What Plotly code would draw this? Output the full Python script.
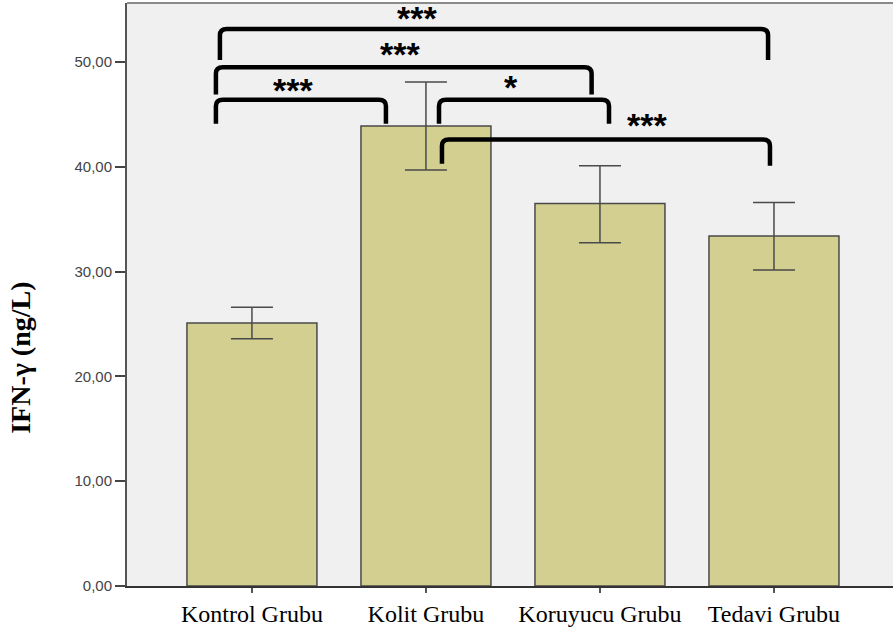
import plotly.graph_objects as go

# Group means and standard errors of IFN-gamma (ng/L)
groups = ["Kontrol Grubu", "Kolit Grubu", "Koruyucu Grubu", "Tedavi Grubu"]
means = [25.1, 43.9, 36.5, 33.4]
err_plus = [1.5, 4.2, 3.6, 3.2]
err_minus = [1.5, 4.2, 3.75, 3.25]

y_ticks = [0, 10, 20, 30, 40, 50]
y_tick_text = ["0,00", "10,00", "20,00", "30,00", "40,00", "50,00"]

# Significance brackets: (left x, right x, top y, left leg end, right leg end, label, label x, label y)
brackets = [
    (-0.207, 0.770, 46.4, 44.1, 44.1, "***", 0.236, 47.6),
    (-0.207, 1.952, 49.5, 46.9, 46.9, "***", 0.851, 51.05),
    (-0.184, 2.966, 53.15, 50.2, 50.2, "***", 0.948, 54.45),
    (1.075, 2.052, 46.4, 44.1, 44.1, "*", 1.489, 47.9),
    (1.092, 2.977, 42.6, 40.3, 40.1, "***", 2.270, 44.3),
]

x_pos = list(range(len(groups)))

fig = go.Figure()
fig.add_trace(go.Bar(
    x=x_pos,
    y=means,
    width=0.747,
    marker=dict(color="#d3cf91", line=dict(color="#4a4a4a", width=1.5)),
    error_y=dict(type="data", array=err_plus, arrayminus=err_minus,
                 color="#4a4a4a", thickness=1.5, width=21),
    showlegend=False,
))

# corner radius in data units
rx, ry = 0.04, 0.6
shapes = []
annotations = []
for xl, xr, yt, ybl, ybr, lab, lx, ly in brackets:
    path = (f"M {xl},{ybl} L {xl},{yt - ry} Q {xl},{yt} {xl + rx},{yt} "
            f"L {xr - rx},{yt} Q {xr},{yt} {xr},{yt - ry} L {xr},{ybr}")
    shapes.append(dict(type="path", path=path, xref="x", yref="y",
                       line=dict(color="black", width=4.5)))
    annotations.append(dict(x=lx, y=ly, xref="x", yref="y", text=f"<b>{lab}</b>",
                            showarrow=False, yanchor="middle", yshift=-3,
                            font=dict(family="Liberation Sans, Arial", size=34, color="black")))

# y-axis title
annotations.append(dict(x=-0.14, y=0.391, xref="paper", yref="paper",
                        text="<b>IFN-γ (ng/L)</b>", textangle=-90, showarrow=False,
                        xanchor="center", yanchor="middle",
                        font=dict(family="Liberation Serif, Times New Roman", size=28, color="black")))

# top frame line
shapes.append(dict(type="line", xref="paper", yref="paper", x0=0, x1=1, y0=1, y1=1,
                   line=dict(color="#8a8a8a", width=2)))

fig.update_layout(
    width=893, height=634,
    margin=dict(l=127, r=0, t=3, b=48),
    paper_bgcolor="white",
    plot_bgcolor="#f0f0f0",
    shapes=shapes,
    annotations=annotations,
    xaxis=dict(
        range=[-0.718, 3.684],
        tickvals=x_pos, ticktext=groups,
        ticks="outside", ticklen=5, tickwidth=1.5, tickcolor="#555",
        showline=True, linecolor="#333", linewidth=2,
        showgrid=False, zeroline=False,
        tickfont=dict(family="Liberation Serif, Times New Roman", size=24, color="black"),
    ),
    yaxis=dict(
        range=[0, 55.63],
        tickvals=y_ticks, ticktext=y_tick_text,
        ticks="outside", ticklen=10, tickwidth=1.5, tickcolor="#444",
        showline=True, linecolor="#555", linewidth=2,
        showgrid=False, zeroline=False,
        tickfont=dict(family="Liberation Sans, Arial", size=15, color="#444"),
    ),
)

fig.write_html("out.html")
